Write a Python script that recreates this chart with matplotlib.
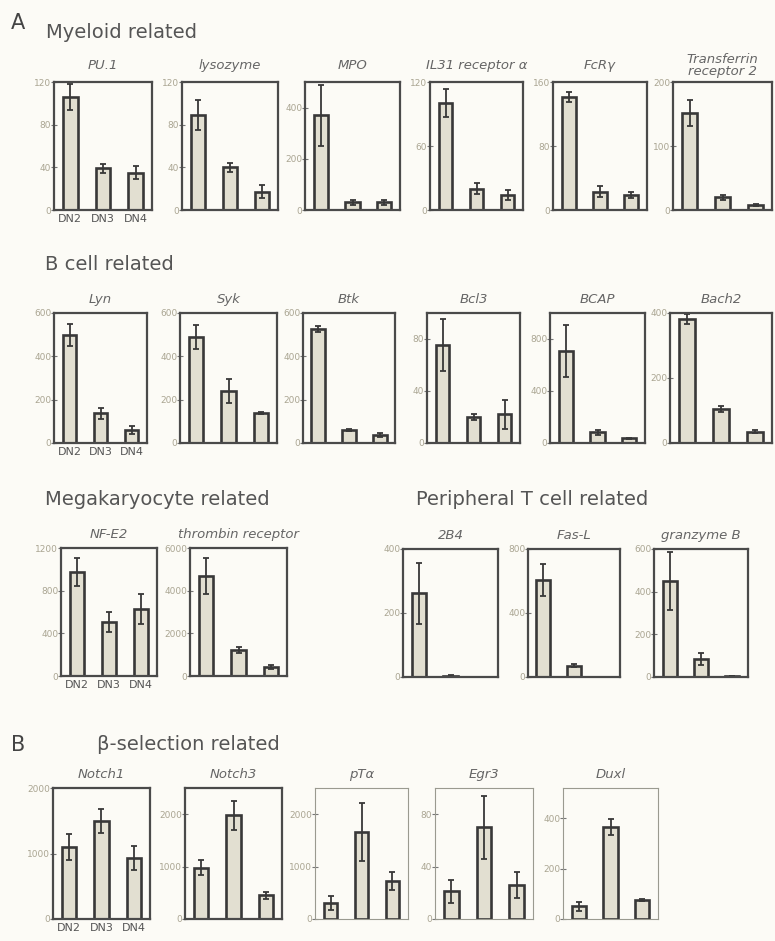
import matplotlib
matplotlib.use("Agg")
import matplotlib.pyplot as plt

# stages
stages = ["DN2", "DN3", "DN4"]

# A - myeloid related
myeloid_genes = ["PU.1", "lysozyme", "MPO", "IL31 receptor α", "FcRγ", "Transferrin\nreceptor 2"]
myeloid_mean = [[106, 39, 35], [89, 40, 17], [370, 31, 31], [100, 20, 14], [141, 23, 19], [152, 20, 8]]
myeloid_err = [[12, 4, 6], [14, 4, 6], [120, 10, 10], [13, 5, 5], [6, 7, 4], [20, 4, 2]]
myeloid_ymax = [120, 120, 500, 120, 160, 200]
myeloid_ticks = [[0, 40, 80, 120], [0, 40, 80, 120], [0, 200, 400], [0, 60, 120], [0, 80, 160], [0, 100, 200]]

# B cell related
bcell_genes = ["Lyn", "Syk", "Btk", "Bcl3", "BCAP", "Bach2"]
bcell_mean = [[498, 138, 60], [490, 240, 138], [525, 60, 37], [75, 20, 22], [706, 82, 36], [381, 104, 35]]
bcell_err = [[50, 25, 20], [55, 55, 5], [15, 5, 8], [20, 2, 11], [200, 20, 5], [15, 10, 5]]
bcell_ymax = [600, 600, 600, 100, 1000, 400]
bcell_ticks = [[0, 200, 400, 600], [0, 200, 400, 600], [0, 200, 400, 600], [0, 40, 80], [0, 400, 800], [0, 200, 400]]

# megakaryocyte related
mega_genes = ["NF-E2", "thrombin receptor"]
mega_mean = [[975, 506, 628], [4690, 1220, 420]]
mega_err = [[135, 90, 145], [830, 150, 100]]
mega_ymax = [1200, 6000]
mega_ticks = [[0, 400, 800, 1200], [0, 2000, 4000, 6000]]

# peripheral T cell related
tcell_genes = ["2B4", "Fas-L", "granzyme B"]
tcell_mean = [[262, 3, 0], [608, 71, 0], [450, 84, 5]]
tcell_err = [[95, 2, 0], [100, 10, 0], [135, 30, 0]]
tcell_ymax = [400, 800, 600]
tcell_ticks = [[0, 200, 400], [0, 400, 800], [0, 200, 400, 600]]

# beta-selection related
beta_genes = ["Notch1", "Notch3", "pTα", "Egr3", "Duxl"]
beta_mean = [[1100, 1500, 930], [980, 1980, 450], [300, 1660, 720], [21, 70, 26], [51, 365, 75]]
beta_err = [[200, 180, 180], [140, 280, 60], [130, 560, 170], [9, 24, 10], [18, 30, 5]]
beta_ymax = [2000, 2500, 2500, 100, 520]
beta_ticks = [[0, 1000, 2000], [0, 1000, 2000], [0, 1000, 2000], [0, 40, 80], [0, 200, 400]]

W, H = 775, 941
bg = "#fcfbf6"
fig = plt.figure(figsize=(W / 100, H / 100), dpi=100, facecolor=bg)


def panel(x0, x1, ytop, ybot, gene, mean, err, ymax, ticks, show_x=False, light=False, tpad=7.5):
    ax = fig.add_axes([x0 / W, 1 - ybot / H, (x1 - x0) / W, (ybot - ytop) / H])
    ax.set_facecolor(bg)
    pos = range(len(stages))
    ax.bar(pos, mean, width=0.45, color="#e2dfd1", edgecolor="#383838", linewidth=1.9)
    ax.errorbar(pos, mean, yerr=err, fmt="none", ecolor="#383838", elinewidth=1.3,
                capsize=2, capthick=1.3)
    ax.set_xlim(-0.5, 2.5)
    ax.set_ylim(0, ymax)
    ax.set_yticks(ticks)
    ax.tick_params(axis="y", direction="inout", length=4, width=0.8, pad=0,
                   labelsize=6.5, labelcolor="#aaa592", color="#777")
    if show_x:
        ax.set_xticks(list(pos))
        ax.set_xticklabels(stages)
        ax.tick_params(axis="x", length=0, pad=3, labelsize=8, labelcolor="#555")
    else:
        ax.set_xticks([])
    for s in ax.spines.values():
        if light:
            s.set_color("#9a9a90")
            s.set_linewidth(0.8)
        else:
            s.set_color("#4a4a4a")
            s.set_linewidth(1.6)
    ax.set_title(gene, fontsize=9.5, style="italic", color="#666", pad=tpad, linespacing=0.95)
    return ax


# row 1
row1_x = [(54, 152), (182, 278), (305, 400), (430, 523), (553, 647), (673, 772)]
for i, (x0, x1) in enumerate(row1_x):
    panel(x0, x1, 82, 210, myeloid_genes[i], myeloid_mean[i], myeloid_err[i],
          myeloid_ymax[i], myeloid_ticks[i], show_x=(i == 0), tpad=9.5 if i < 5 else 5)

# row 2
row2_x = [(54, 147), (180, 277), (303, 395), (427, 520), (550, 645), (670, 772)]
for i, (x0, x1) in enumerate(row2_x):
    panel(x0, x1, 313, 443, bcell_genes[i], bcell_mean[i], bcell_err[i],
          bcell_ymax[i], bcell_ticks[i], show_x=(i == 0))

# row 3
row3a_x = [(61, 157), (190, 287)]
for i, (x0, x1) in enumerate(row3a_x):
    panel(x0, x1, 548, 676, mega_genes[i], mega_mean[i], mega_err[i],
          mega_ymax[i], mega_ticks[i], show_x=(i == 0))
row3b_x = [(403, 498), (528, 620), (654, 748)]
for i, (x0, x1) in enumerate(row3b_x):
    panel(x0, x1, 549, 677, tcell_genes[i], tcell_mean[i], tcell_err[i],
          tcell_ymax[i], tcell_ticks[i])

# row 4
row4_x = [(53, 150), (185, 282), (315, 408), (435, 533), (563, 658)]
for i, (x0, x1) in enumerate(row4_x):
    panel(x0, x1, 788, 919, beta_genes[i], beta_mean[i], beta_err[i],
          beta_ymax[i], beta_ticks[i], show_x=(i == 0), light=(i >= 2))

# section headings
def heading(x, y, s, size=14, color="#555"):
    fig.text(x / W, 1 - y / H, s, fontsize=size, color=color, va="center", ha="left")

heading(11, 23, "A", size=15, color="#444")
heading(46, 33, "Myeloid related")
heading(45, 264, "B cell related")
heading(45, 500, "Megakaryocyte related")
heading(416, 500, "Peripheral T cell related")
heading(11, 745, "B", size=15, color="#444")
heading(97, 745, "β-selection related")

fig.savefig("out.png", dpi=100, facecolor=bg)
